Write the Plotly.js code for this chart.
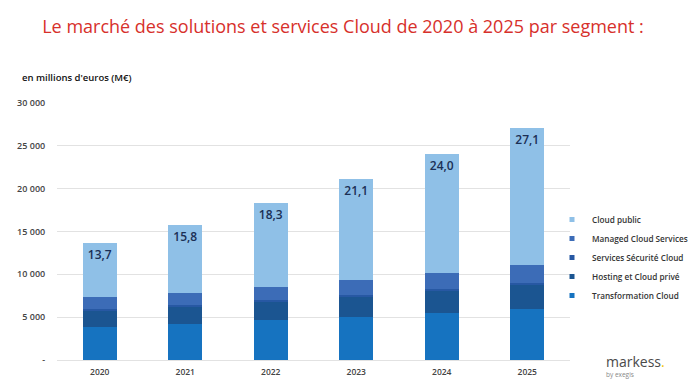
<!DOCTYPE html>
<html>
<head>
<meta charset="utf-8">
<script src="https://cdn.plot.ly/plotly-3.0.1.min.js"></script>
<style>html,body{margin:0;padding:0;background:#fff;}#chart{width:700px;height:386px;}</style>
</head>
<body>
<div id="chart"></div>
<script>
const years = ["2020", "2021", "2022", "2023", "2024", "2025"];
const transformationCloud = [3900, 4200, 4650, 5050, 5450, 5900];
const hostingCloudPrive = [1850, 2000, 2150, 2300, 2600, 2850];
const servicesSecurite = [250, 200, 200, 280, 200, 270];
const managedCloud = [1300, 1400, 1550, 1650, 1950, 2050];
const cloudPublic = [6400, 8000, 9750, 11820, 13800, 16030];
const totalLabels = ["13,7", "15,8", "18,3", "21,1", "24,0", "27,1"];
const yTickVals = [0, 5000, 10000, 15000, 20000, 25000, 30000];
const yTickText = ["-", "5 000", "10 000", "15 000", "20 000", "25 000", "30 000"];

const seriesNames = ["Transformation Cloud", "Hosting et Cloud privé", "Services Sécurité Cloud", "Managed Cloud Services", "Cloud public"];
const seriesValues = [transformationCloud, hostingCloudPrive, servicesSecurite, managedCloud, cloudPublic];
const seriesColors = ["#1673c0", "#1b5591", "#2758a3", "#3c6cb7", "#8fc0e7"];

const FONT = "'Open Sans', 'DejaVu Sans', sans-serif";
const traces = [];
seriesNames.forEach((name, i) => {
  const t = {
    type: "bar",
    x: years,
    y: seriesValues[i],
    name: name,
    marker: {color: seriesColors[i], line: {width: 0}},
    width: 0.4,
    showlegend: false,
    hoverinfo: "skip"
  };
  if (i === seriesNames.length - 1) {
    t.text = totalLabels;
    t.textposition = "inside";
    t.insidetextanchor = "end";
    t.textangle = 0;
    t.textfont = {family: FONT, size: 12, color: "#1b2f55", weight: 600};
  }
  traces.push(t);
});
// legend entries with small square swatches
seriesNames.forEach((name, i) => {
  traces.push({
    type: "scatter",
    mode: "markers",
    x: [null],
    y: [null],
    name: name,
    marker: {symbol: "square", size: 5, color: seriesColors[i]},
    showlegend: true,
    hoverinfo: "skip"
  });
});

const layout = {
  width: 700,
  height: 386,
  paper_bgcolor: "#ffffff",
  plot_bgcolor: "#ffffff",
  margin: {l: 57, r: 130, t: 102, b: 26, autoexpand: false},
  barmode: "stack",
  bargap: 0.6,
  showlegend: true,
  font: {family: FONT},
  title: {
    text: "Le marché des solutions et services Cloud de 2020 à 2025 par segment :",
    font: {family: FONT, size: 18, color: "#d7302b"},
    x: 0.49,
    xanchor: "center",
    y: 0.93,
    yanchor: "middle",
    yref: "container"
  },
  xaxis: {
    type: "category",
    range: [-0.5, 5.5],
    showgrid: false,
    zeroline: false,
    showline: false,
    ticks: "outside",
    ticklen: 4,
    tickcolor: "rgba(0,0,0,0)",
    tickfont: {family: FONT, size: 8.5, color: "#444", weight: 600},
    fixedrange: true
  },
  yaxis: {
    range: [0, 30100],
    tickvals: yTickVals,
    ticktext: yTickText,
    showgrid: true,
    gridcolor: "#e2e2e2",
    gridwidth: 1,
    zeroline: true,
    zerolinecolor: "#e2e2e2",
    zerolinewidth: 1,
    showline: false,
    ticks: "outside",
    ticklen: 9,
    tickcolor: "rgba(0,0,0,0)",
    tickfont: {family: FONT, size: 9, color: "#444", weight: 600},
    fixedrange: true
  },
  legend: {
    xref: "container",
    yref: "container",
    x: 552 / 700,
    y: 1 - 205 / 386,
    xanchor: "left",
    yanchor: "top",
    traceorder: "reversed",
    font: {family: FONT, size: 8.2, color: "#333", weight: 600},
    itemwidth: 30,
    tracegroupgap: 0,
    bgcolor: "rgba(0,0,0,0)"
  },
  annotations: [
    {
      text: "en millions d'euros (M€)",
      xref: "paper", yref: "paper",
      x: -37 / 513, y: (386 - 26 - 77) / 258,
      xanchor: "left", yanchor: "middle",
      showarrow: false,
      font: {family: FONT, size: 9.5, color: "#111", weight: 600}
    },
    {
      text: "markess<span style='color:#f2c200'>.</span>",
      xref: "paper", yref: "paper",
      x: (604 - 57) / 513, y: (360 - 361) / 258,
      xanchor: "left", yanchor: "middle",
      showarrow: false,
      font: {family: FONT, size: 14, color: "#4a4a4a"}
    },
    {
      text: "by exegis",
      xref: "paper", yref: "paper",
      x: (604 - 57) / 513, y: (360 - 374) / 258,
      xanchor: "left", yanchor: "middle",
      showarrow: false,
      font: {family: FONT, size: 6.5, color: "#888"}
    }
  ]
};

Plotly.newPlot("chart", traces, layout, {displayModeBar: false, staticPlot: true});
</script>
</body>
</html>
